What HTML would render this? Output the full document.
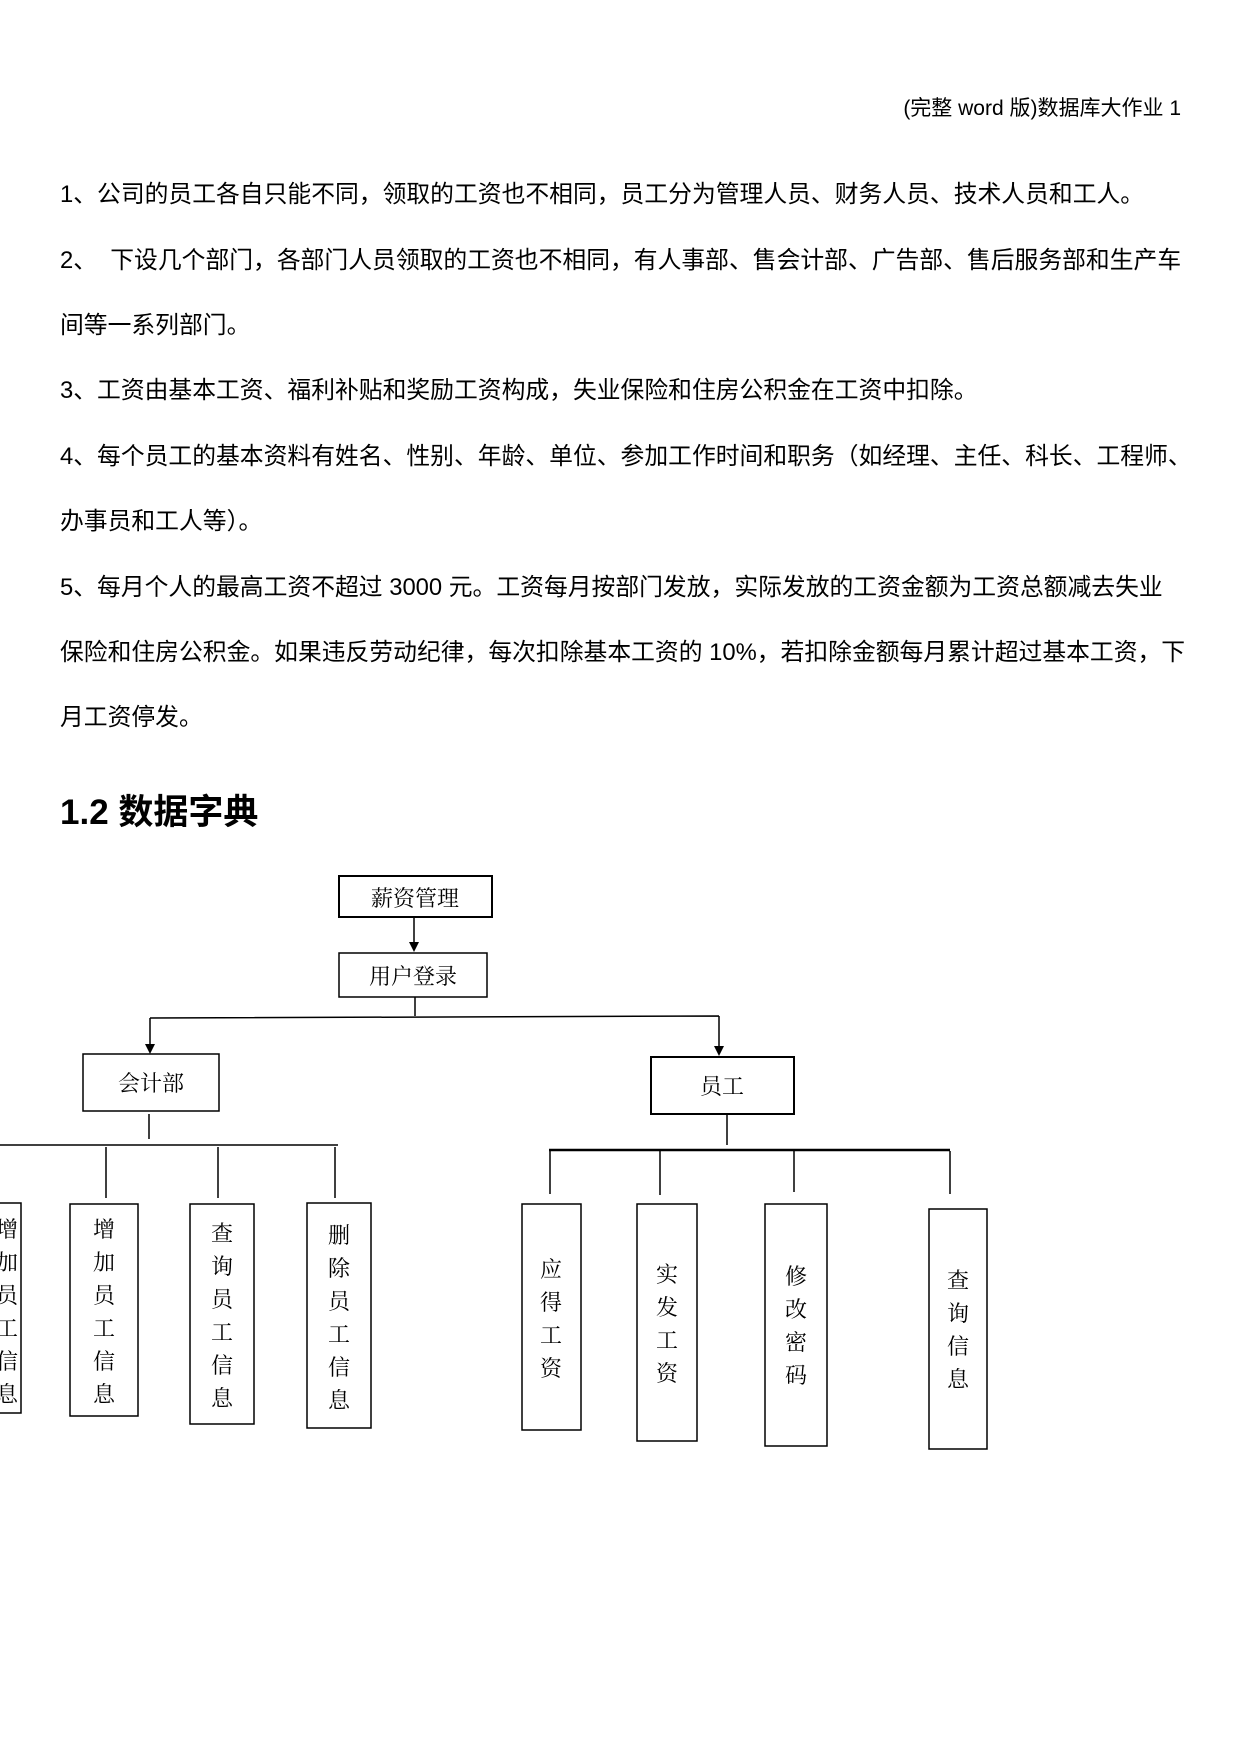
<!DOCTYPE html>
<html><head><meta charset="utf-8"><style>
body{margin:0;background:#fff;}
.p{position:relative;width:1241px;height:1754px;overflow:hidden;font-family:"Liberation Sans","Noto Sans CJK SC",sans-serif;color:#000;}
.t{position:absolute;left:60px;font-size:23.8px;white-space:nowrap;line-height:1;}
</style></head><body><div class="p">
<div class="t" style="left:auto;right:60px;top:98px;font-size:21px;">(完整 word 版)数据库大作业 1</div>
<div class="t" style="top:183px">1、公司的员工各自只能不同，领取的工资也不相同，员工分为管理人员、财务人员、技术人员和工人。</div>
<div class="t" style="top:249px">2、&nbsp;&nbsp;下设几个部门，各部门人员领取的工资也不相同，有人事部、售会计部、广告部、售后服务部和生产车</div>
<div class="t" style="top:314px">间等一系列部门。</div>
<div class="t" style="top:379px">3、工资由基本工资、福利补贴和奖励工资构成，失业保险和住房公积金在工资中扣除。</div>
<div class="t" style="top:445px">4、每个员工的基本资料有姓名、性别、年龄、单位、参加工作时间和职务（如经理、主任、科长、工程师、</div>
<div class="t" style="top:510px">办事员和工人等）。</div>
<div class="t" style="top:576px">5、每月个人的最高工资不超过 3000 元。工资每月按部门发放，实际发放的工资金额为工资总额减去失业</div>
<div class="t" style="top:641px">保险和住房公积金。如果违反劳动纪律，每次扣除基本工资的 10%，若扣除金额每月累计超过基本工资，下</div>
<div class="t" style="top:706px">月工资停发。</div>
<div class="t" style="top:795px;font-size:35px;font-weight:bold;">1.2 数据字典</div>
<svg width="1241" height="1754" style="position:absolute;left:0;top:0" font-family="'Liberation Serif','Noto Serif CJK SC',serif" font-size="22">
<g transform="translate(-3,-6)">
<g fill="none" stroke="#000" stroke-width="1.5">
<rect x="342" y="882" width="153" height="41" stroke-width="2"/>
<rect x="342" y="959" width="148" height="44"/>
<rect x="86" y="1060" width="136" height="57"/>
<rect x="654" y="1063" width="143" height="57" stroke-width="2"/>
<rect x="-5" y="1209" width="29" height="210"/>
<rect x="73" y="1210" width="68" height="212"/>
<rect x="193" y="1210" width="64" height="220"/>
<rect x="310" y="1209" width="64" height="225"/>
<rect x="525" y="1210" width="59" height="226"/>
<rect x="640" y="1210" width="60" height="237"/>
<rect x="768" y="1210" width="62" height="242"/>
<rect x="932" y="1215" width="58" height="240"/>
<path d="M417 923V950M418 1003V1022M153 1024L722 1022M153 1024V1050M722 1022V1052"/>
<path d="M152 1120V1145M0 1151H341M109 1153V1204M221 1153V1204M338 1153V1204"/>
<path d="M730 1120V1151M553 1157V1200M663 1157V1201M797 1157V1198M953 1157V1200"/>
<path d="M552 1156H953" stroke-width="2.5"/>
</g>
<g fill="#000"><path d="M412 948L422 948L417 958Z"/><path d="M148 1050L158 1050L153 1060Z"/><path d="M717 1052L727 1052L722 1062Z"/></g>
<g text-anchor="middle">
<text x="418" y="912">薪资管理</text>
<text x="416" y="990">用户登录</text>
<text x="154" y="1097">会计部</text>
<text x="725" y="1100">员工</text>
</g>
<g text-anchor="middle">
<text><tspan x="10" y="1243">增</tspan><tspan x="10" y="1276">加</tspan><tspan x="10" y="1309">员</tspan><tspan x="10" y="1342">工</tspan><tspan x="10" y="1375">信</tspan><tspan x="10" y="1408">息</tspan></text>
<text><tspan x="107" y="1243">增</tspan><tspan x="107" y="1276">加</tspan><tspan x="107" y="1309">员</tspan><tspan x="107" y="1342">工</tspan><tspan x="107" y="1375">信</tspan><tspan x="107" y="1408">息</tspan></text>
<text><tspan x="225" y="1247">查</tspan><tspan x="225" y="1280">询</tspan><tspan x="225" y="1313">员</tspan><tspan x="225" y="1346">工</tspan><tspan x="225" y="1379">信</tspan><tspan x="225" y="1412">息</tspan></text>
<text><tspan x="342" y="1249">删</tspan><tspan x="342" y="1282">除</tspan><tspan x="342" y="1315">员</tspan><tspan x="342" y="1348">工</tspan><tspan x="342" y="1381">信</tspan><tspan x="342" y="1414">息</tspan></text>
<text><tspan x="554" y="1283">应</tspan><tspan x="554" y="1316">得</tspan><tspan x="554" y="1349">工</tspan><tspan x="554" y="1382">资</tspan></text>
<text><tspan x="670" y="1288">实</tspan><tspan x="670" y="1321">发</tspan><tspan x="670" y="1354">工</tspan><tspan x="670" y="1387">资</tspan></text>
<text><tspan x="799" y="1290">修</tspan><tspan x="799" y="1323">改</tspan><tspan x="799" y="1356">密</tspan><tspan x="799" y="1389">码</tspan></text>
<text><tspan x="961" y="1294">查</tspan><tspan x="961" y="1327">询</tspan><tspan x="961" y="1360">信</tspan><tspan x="961" y="1393">息</tspan></text>
</g>
</g>
</svg>
</div></body></html>
